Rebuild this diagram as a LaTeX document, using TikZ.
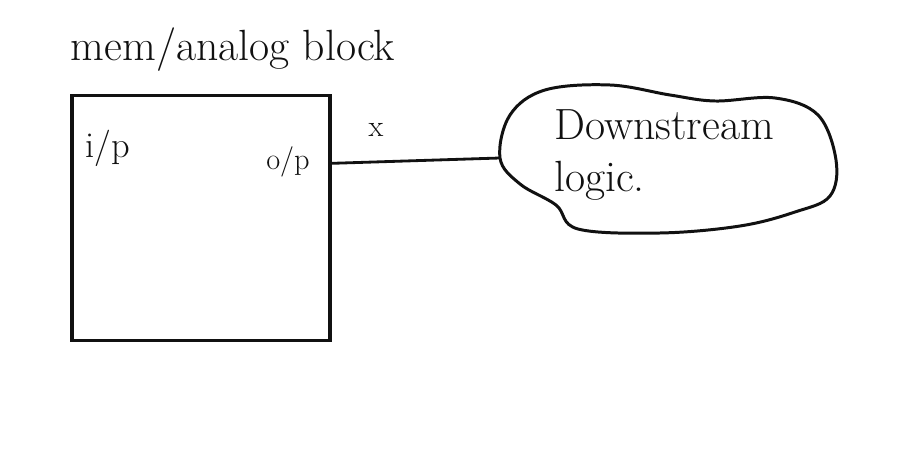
\documentclass[tikz,border=0pt]{standalone}
\usepackage{tikz}
\usepackage{xcolor}
\usetikzlibrary{arrows.meta,positioning,calc}
\definecolor{ink}{HTML}{111111}
\tikzset{
  blockbox/.style={draw=ink,line width=2pt,minimum width=5.16cm,
                   minimum height=4.9cm,inner sep=0pt},
  hand/.style={text=ink,font=\Huge,inner sep=1pt},
  pinlabel/.style={text=ink,font=\LARGE,inner sep=1pt},
  wire/.style={draw=ink,line width=1.6pt},
  blob/.style={draw=ink,line width=1.7pt}
}

\begin{document}
\begin{tikzpicture}[x=0.02cm,y=-0.02cm]
    \path[use as bounding box,fill=white] (0,0) rectangle (922,452);
    \node[hand] (title) at (233,50) {mem/analog block};
    \node[blockbox] (blk) at (201,218) {};
    \node[pinlabel,font=\huge] (ip) at (108,148) {i/p};
    \node[pinlabel] (op) at (288,162) {o/p};
    \coordinate (out) at ($(blk.north east)!0.28!(blk.south east)$);
    \node[hand,align=left] (dsl) at (664,155) {Downstream\\logic.};
    \coordinate (dsin) at (500,158);
    \draw[blob] plot[smooth cycle,tension=0.6] coordinates {
      (500,158) (510,115) (545,90) (610,85) (670,95) (715,101)
      (775,98) (818,115) (836,160) (830,196) (795,212) (740,226)
      (660,233) (578,229) (556,205) (520,184)};
    \node[pinlabel] (xlab) at (376,130) {x};
    \draw[wire] (out) -- (dsin);
\end{tikzpicture}
\end{document}
